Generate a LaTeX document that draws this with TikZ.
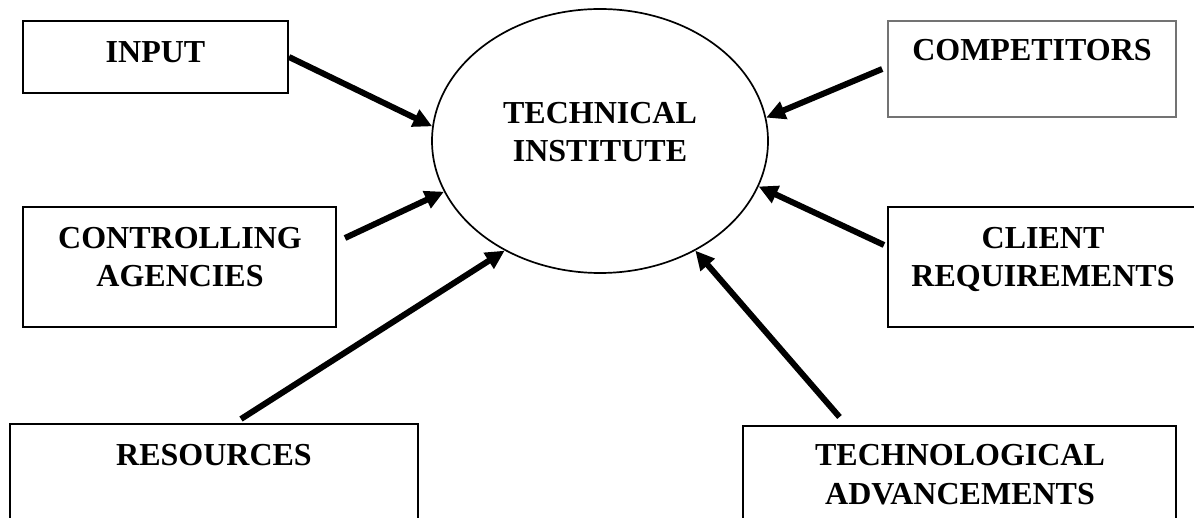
\documentclass[tikz,border=0pt]{standalone}
\usepackage{fontspec}
\setmainfont{Liberation Serif}
\usetikzlibrary{arrows.meta,shapes.geometric}
\begin{document}
\begin{tikzpicture}[x=1pt,y=-1pt,
  box/.style={draw=black,line width=2pt,rectangle,inner sep=0pt},
  graybox/.style={draw=black!55,line width=1.6pt,rectangle,inner sep=0pt},
  lbl/.style={font=\bfseries\fontsize{32}{38.5}\selectfont,align=center,anchor=base,inner sep=0pt},
  arr/.style={line width=6pt,-{Triangle[length=19pt,width=18pt]}}]
\useasboundingbox (0,0) rectangle (1194,518);
\clip (0,0) rectangle (1194,518);
\node[draw=black,line width=1.7pt,ellipse,minimum width=336pt,minimum height=264pt,inner sep=0pt] (ti) at (600,141) {};
\node[box,minimum width=265pt,minimum height=72pt] (input) at (155.5,57) {};
\node[graybox,minimum width=288pt,minimum height=96pt] (comp) at (1032,69) {};
\node[box,minimum width=313pt,minimum height=120pt] (ctrl) at (179.5,267) {};
\node[box,minimum width=310pt,minimum height=120pt] (client) at (1043,267) {};
\node[box,minimum width=408pt,minimum height=122pt] (res) at (214,485) {};
\node[box,minimum width=433pt,minimum height=122pt] (tech) at (959.5,487) {};
\node[lbl] (tit) at (600,162) {TECHNICAL\\INSTITUTE};
\node[lbl] (inputt) at (155.5,63) {INPUT};
\node[lbl] (compt) at (1032,61) {COMPETITORS};
\node[lbl] (ctrlt) at (180,287) {CONTROLLING\\AGENCIES};
\node[lbl] (clientt) at (1043,287) {CLIENT\\REQUIREMENTS};
\node[lbl] (rest) at (214,465) {RESOURCES};
\node[lbl] (techt) at (960,504) {TECHNOLOGICAL\\ADVANCEMENTS};
\draw[arr] (input.east) -- (ti.175);
\draw[arr] ([xshift=-5pt]comp.west) -- (ti.8);
\draw[arr] ([xshift=8pt,yshift=29pt]ctrl.east) -- (ti.198);
\draw[arr] ([xshift=-3pt,yshift=22pt]client.west) -- (ti.344);
\draw[arr] ([xshift=27pt,yshift=4pt]res.north) -- (ti.229);
\draw[arr] ([xshift=-120pt,yshift=8pt]tech.north) -- (ti.311);
\end{tikzpicture}
\end{document}
